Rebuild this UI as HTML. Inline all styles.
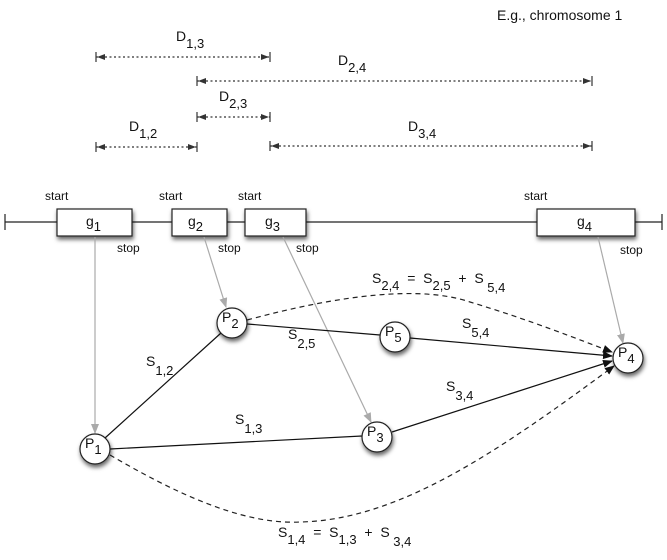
<!DOCTYPE html>
<html><head><style>
html,body{margin:0;padding:0;background:#fff;}
svg text{font-family:"Liberation Sans",Arial,sans-serif;fill:#111;}
.pre{white-space:pre;}
</style></head><body>
<svg width="667" height="555" viewBox="0 0 667 555" xmlns="http://www.w3.org/2000/svg">
<defs>
<marker id="ab" markerWidth="10" markerHeight="8" refX="9" refY="4" orient="auto" markerUnits="userSpaceOnUse"><path d="M0,0 L10,4 L0,8 z" fill="#111"/></marker>
<marker id="ag" markerWidth="10" markerHeight="8" refX="9" refY="4" orient="auto" markerUnits="userSpaceOnUse"><path d="M0,0 L10,4 L0,8 z" fill="#aaa"/></marker>
<marker id="d" markerWidth="10" markerHeight="10" refX="9" refY="5" orient="auto" markerUnits="userSpaceOnUse"><path d="M0,2 L8,5 L0,8 z" fill="#333"/><path d="M9,0 V10" stroke="#333" stroke-width="1.2"/></marker>
<marker id="ds" markerWidth="10" markerHeight="10" refX="1" refY="5" orient="auto" markerUnits="userSpaceOnUse"><path d="M10,2 L2,5 L10,8 z" fill="#333"/><path d="M1,0 V10" stroke="#333" stroke-width="1.2"/></marker>
<filter id="sh" x="-50%" y="-50%" width="200%" height="200%"><feDropShadow dx="1" dy="3" stdDeviation="2" flood-opacity="0.6"/></filter>
</defs>
<text x="497" y="20" font-size="14">E.g., chromosome 1</text>
<g stroke="#333" stroke-width="1.3" stroke-dasharray="2,2.5" fill="none">
<line x1="96" y1="57" x2="270" y2="57" marker-start="url(#ds)" marker-end="url(#d)"/>
<line x1="197" y1="81" x2="592" y2="81" marker-start="url(#ds)" marker-end="url(#d)"/>
<line x1="197" y1="117" x2="270" y2="117" marker-start="url(#ds)" marker-end="url(#d)"/>
<line x1="96" y1="147" x2="197" y2="147" marker-start="url(#ds)" marker-end="url(#d)"/>
<line x1="270" y1="146" x2="592" y2="146" marker-start="url(#ds)" marker-end="url(#d)"/>
</g>
<g font-size="14">
<text x="176" y="41">D<tspan dy="7" font-size="13">1,3</tspan></text>
<text x="338" y="65">D<tspan dy="7" font-size="13">2,4</tspan></text>
<text x="219" y="101">D<tspan dy="7" font-size="13">2,3</tspan></text>
<text x="129" y="131">D<tspan dy="7" font-size="13">1,2</tspan></text>
<text x="408" y="131">D<tspan dy="7" font-size="13">3,4</tspan></text>
</g>
<g stroke="#222" stroke-width="1.2" fill="none">
<line x1="5" y1="222" x2="662" y2="222"/>
<line x1="5" y1="214" x2="5" y2="230"/>
<line x1="662" y1="214" x2="662" y2="230"/>
</g>
<g fill="#fff" stroke="#222" stroke-width="1.2" filter="url(#sh)">
<rect x="57" y="209" width="75" height="27"/>
<rect x="172" y="209" width="55" height="27"/>
<rect x="245" y="209" width="61" height="27"/>
<rect x="537" y="209" width="98" height="27"/>
</g>
<g font-size="14">
<text x="86" y="226">g<tspan dy="5" font-size="13">1</tspan></text>
<text x="188" y="226">g<tspan dy="5" font-size="13">2</tspan></text>
<text x="265" y="226">g<tspan dy="5" font-size="13">3</tspan></text>
<text x="577" y="226">g<tspan dy="5" font-size="13">4</tspan></text>
</g>
<g font-size="12">
<text x="45" y="200">start</text><text x="159" y="200">start</text><text x="238" y="200">start</text><text x="524" y="200">start</text>
<text x="117" y="252">stop</text><text x="218" y="252">stop</text><text x="296" y="252">stop</text><text x="620" y="254">stop</text>
</g>
<g stroke="#aaa" stroke-width="1.2" fill="none" marker-end="url(#ag)">
<line x1="95" y1="237" x2="95" y2="433"/>
<line x1="204" y1="237" x2="226" y2="307"/>
<line x1="283" y1="237" x2="371" y2="422"/>
<line x1="598" y1="237" x2="623" y2="343"/>
</g>
<g stroke="#111" stroke-width="1.2" fill="none">
<line x1="105" y1="438" x2="221" y2="333"/>
<line x1="110" y1="449" x2="362" y2="436"/>
<line x1="247" y1="324" x2="380" y2="335"/>
<line x1="410" y1="338" x2="612" y2="356" marker-end="url(#ab)"/>
<line x1="392" y1="432" x2="612" y2="361" marker-end="url(#ab)"/>
</g>
<g stroke="#222" stroke-width="1.2" fill="none" stroke-dasharray="5,4">
<path d="M247,320 C340,295 420,285 470,302 C530,320 580,340 612,352" marker-end="url(#ab)"/>
<path d="M110,455 C170,490 240,525 300,522 C400,520 500,450 614,366" marker-end="url(#ab)"/>
</g>
<g fill="#fff" stroke="#222" stroke-width="1.2" filter="url(#sh)">
<circle cx="95" cy="449" r="15"/>
<circle cx="232" cy="323" r="15"/>
<circle cx="395" cy="337" r="15"/>
<circle cx="377" cy="437" r="15"/>
<circle cx="628" cy="358" r="15"/>
</g>
<g font-size="14">
<text x="85" y="448">P<tspan dy="6" font-size="13">1</tspan></text>
<text x="222" y="322">P<tspan dy="6" font-size="13">2</tspan></text>
<text x="385" y="336">P<tspan dy="6" font-size="13">5</tspan></text>
<text x="367" y="436">P<tspan dy="6" font-size="13">3</tspan></text>
<text x="618" y="357">P<tspan dy="6" font-size="13">4</tspan></text>
</g>
<g font-size="14">
<text class="pre" x="372" y="283">S<tspan dy="7" font-size="13">2,4</tspan><tspan dy="-7">  =  S</tspan><tspan dy="7" font-size="13">2,5</tspan><tspan dy="-7">  +  S</tspan><tspan dy="9" font-size="13"> 5,4</tspan></text>
<text x="288" y="339">S<tspan dy="9" font-size="13">2,5</tspan></text>
<text x="462" y="328">S<tspan dy="9" font-size="13">5,4</tspan></text>
<text x="146" y="366">S<tspan dy="9" font-size="13">1,2</tspan></text>
<text x="446" y="391">S<tspan dy="9" font-size="13">3,4</tspan></text>
<text x="235" y="424">S<tspan dy="9" font-size="13">1,3</tspan></text>
<text class="pre" x="278" y="537">S<tspan dy="7" font-size="13">1,4</tspan><tspan dy="-7">  =  S</tspan><tspan dy="7" font-size="13">1,3</tspan><tspan dy="-7">  +  S</tspan><tspan dy="9" font-size="13"> 3,4</tspan></text>
</g>
</svg>
</body></html>
